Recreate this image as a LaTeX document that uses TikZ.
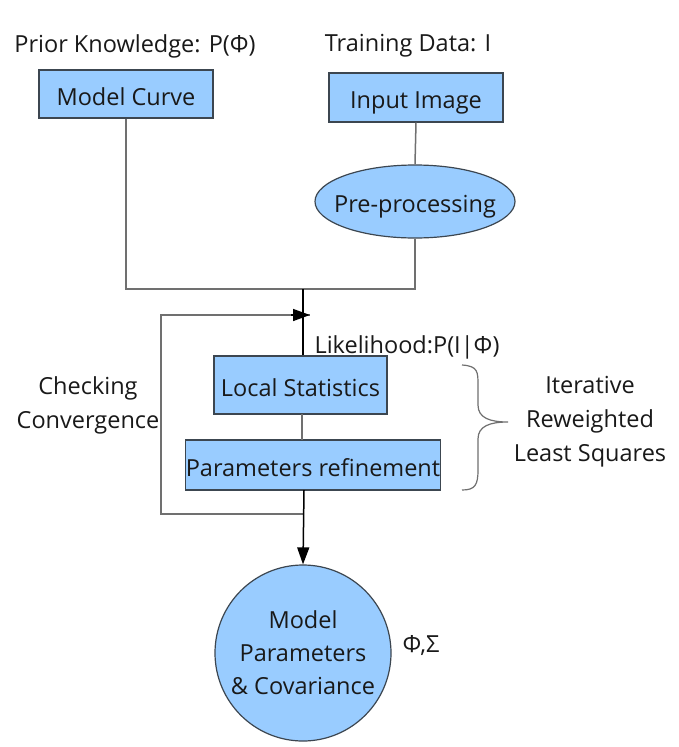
\documentclass[tikz,border=0pt]{standalone}
\usepackage{fontspec}
\setmainfont{Open Sans}
\usetikzlibrary{arrows.meta,shapes.geometric}
\definecolor{boxfill}{HTML}{99CCFF}
\definecolor{boxline}{HTML}{3C4650}
\definecolor{conngray}{HTML}{707070}
\begin{document}
\begin{tikzpicture}[x=1pt,y=-1pt,
  every node/.style={font=\fontsize{23.5}{28}\selectfont, text=black!90, inner sep=0pt},
  box/.style={draw=boxline, fill=boxfill, line width=1.2pt, text height=22pt, text depth=0pt},
  conn/.style={draw=conngray, line width=1.5pt},
  main/.style={draw=black, line width=1.5pt},
  tip/.style={-{Triangle[length=17pt,width=12pt]}},
  lbl/.style={align=center, font=\fontsize{23.5}{34}\selectfont}]
\useasboundingbox (0,0) rectangle (679,747);
\fill[white] (0,0) rectangle (679,747);

\node (prior) at (135,46) {Prior Knowledge: P(Φ)};
\node (train) at (408,46) {Training Data: I};

\node[box, minimum width=174pt, minimum height=48pt] (mc) at (126,94) {Model Curve};
\node[box, minimum width=174pt, minimum height=49pt] (ii) at (416,97.5) {Input Image};
\node[box, ellipse, inner xsep=-12pt, minimum width=200pt, minimum height=73pt] (pp) at (415,201.5) {Pre-processing};

\node[box, minimum width=173pt, minimum height=58pt] (ls) at (300.5,385) {Local Statistics};
\node[box, minimum width=248pt, minimum height=50pt] (pr) at (313,465) {Parameters refinement};
\node[draw=boxline, fill=boxfill, line width=1.2pt, circle, minimum size=176pt, align=center, font=\fontsize{23.5}{33}\selectfont] (mp) at (303,653) {Model\\Parameters\\\& Covariance};

\node (lik) at (407,347) {Likelihood:P(I|Φ)};
\node[lbl] (chk) at (88,405) {Checking\\Convergence};
\node[lbl] (irls) at (590,422) {Iterative\\Reweighted\\Least Squares};
\node (phs) at (421,645) {Φ,Σ};

\coordinate (j) at (303,289);
\coordinate (fbA) at (303,514);
\coordinate (fbB) at (161,514);
\coordinate (fbC) at (161,315);
\coordinate (fbD) at (310,315);

\draw[conn] (mc.south) |- (j);
\draw[conn] (ii.south) -- (pp.north);
\draw[conn] (pp.south) |- (j);
\draw[main] (j) -- (j |- ls.north);
\draw[conn] (302,414) -- (302,440);
\draw[conn] (fbA) -- (fbB) -- (fbC) -- (fbD);
\draw[main, tip] (fbC) ++(130,0) -- (fbD);
\draw[main, tip] (304,490) -- (mp.north);

\draw[conn, line width=1.2pt] (462,365) .. controls (478,366) and (478,372) .. (478,385)
  -- (478,405) .. controls (478,418) and (490,422) .. (508,422)
  .. controls (490,422) and (478,426) .. (478,439)
  -- (478,470) .. controls (478,485) and (475,490) .. (462,490);
\end{tikzpicture}
\end{document}
